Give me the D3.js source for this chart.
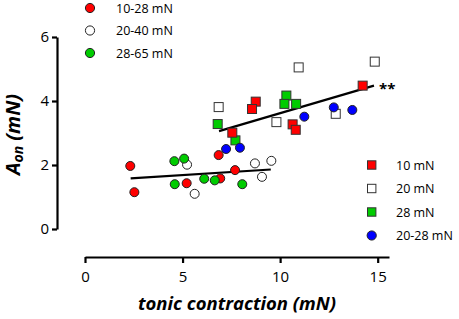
<!DOCTYPE html>
<html><head><meta charset="utf-8">
<script src="https://cdn.jsdelivr.net/npm/d3@7"></script>
<style>body{margin:0;background:#fff}svg{display:block}text{font-family:"Open Sans",sans-serif}</style>
</head><body><svg id="c" width="459" height="319"></svg>
<script>
// Circle series (protocol groups)
const circRed = [[2.32,1.97],[2.53,1.15],[5.21,1.43],[6.93,1.58],[6.85,2.31],[7.69,1.84]];
const circWhite = [[5.23,2.01],[5.62,1.10],[8.71,2.05],[9.55,2.13],[9.07,1.63]];
const circGreen = [[4.58,2.12],[5.08,2.20],[4.60,1.40],[6.11,1.57],[6.65,1.52],[8.06,1.40]];
// Square series and blue circles
const sqRed = [[7.55,3.01],[8.75,3.98],[8.56,3.75],[10.64,3.27],[10.80,3.10],[14.23,4.48]];
const sqWhite = [[6.85,3.81],[9.81,3.34],[10.95,5.05],[12.85,3.60],[14.85,5.23]];
const sqGreen = [[6.80,3.28],[7.71,2.77],[10.32,4.17],[10.22,3.91],[10.82,3.91]];
const circBlue = [[7.23,2.50],[7.94,2.54],[11.24,3.51],[12.75,3.80],[13.70,3.72]];
// Regression lines
const lineLow = [[2.34,1.58],[9.52,1.86]];
const lineHigh = [[6.87,3.06],[14.81,4.48]];
const xTicks = [0,5,10,15];
const yTicks = [0,2,4,6];
const legendTop = ["10-28 mN","20-40 mN","28-65 mN"];
const legendRight = ["10 mN","20 mN","28 mN","20-28 mN"];

const RED="#ff0000", GREEN="#00cc00", BLUE="#0000ff", WHITE="#ffffff";
const svg = d3.select("#c");
const x = d3.scaleLinear().domain([0,15.58]).range([85,389]);
const y = d3.scaleLinear().domain([0,6]).range([229,37]);

const yAx = svg.append("g").attr("transform","translate(57,0)")
  .call(d3.axisLeft(y).tickValues(yTicks).tickFormat(d3.format("d")).tickSize(5).tickSizeOuter(0).tickPadding(3));
const xAx = svg.append("g").attr("transform","translate(0,257)")
  .call(d3.axisBottom(x).tickValues(xTicks).tickFormat(d3.format("d")).tickSize(6).tickSizeOuter(0).tickPadding(8));
[yAx,xAx].forEach(g=>{
  g.select(".domain").attr("stroke","#000").attr("stroke-width",2.2);
  g.selectAll(".tick line").attr("stroke","#000").attr("stroke-width",2.2);
  g.selectAll(".tick text").attr("font-size",15).attr("fill","#000").attr("font-family","Open Sans");
});

const line = d3.line().x(d=>x(d[0])).y(d=>y(d[1]));
[lineLow,lineHigh].forEach(l=>svg.append("path").attr("d",line(l)).attr("stroke","#000").attr("stroke-width",2.2).attr("fill","none"));

function circles(data,fill){
  svg.append("g").selectAll("circle").data(data).join("circle")
    .attr("cx",d=>x(d[0])).attr("cy",d=>y(d[1])).attr("r",4.5)
    .attr("fill",fill).attr("stroke","#222").attr("stroke-width",1);
}
function squares(data,fill){
  svg.append("g").selectAll("rect").data(data).join("rect")
    .attr("x",d=>x(d[0])-4.5).attr("y",d=>y(d[1])-4.5).attr("width",9).attr("height",9)
    .attr("fill",fill).attr("stroke","#333").attr("stroke-width",1);
}
circles(circRed,RED); circles(circWhite,WHITE); circles(circGreen,GREEN);
squares(sqWhite,WHITE); squares(sqGreen,GREEN); squares(sqRed,RED);
circles(circBlue,BLUE);

svg.append("text").attr("x",379).attr("y",94).attr("font-size",15).attr("font-weight","bold").text("**");

// top-left legend
const tl = [RED,WHITE,GREEN];
legendTop.forEach((t,i)=>{
  const cy = 8 + i*22.5;
  svg.append("circle").attr("cx",90).attr("cy",cy).attr("r",4.6).attr("fill",tl[i]).attr("stroke","#222").attr("stroke-width",1);
  svg.append("text").attr("x",116).attr("y",cy+4.5).attr("font-size",12.5).text(t);
});
// right legend
const rl = [RED,WHITE,GREEN,BLUE];
legendRight.forEach((t,i)=>{
  const cy = 165 + i*23.5;
  if(i<3) svg.append("rect").attr("x",367.5).attr("y",cy-4.2).attr("width",8.4).attr("height",8.4).attr("fill",rl[i]).attr("stroke","#333").attr("stroke-width",1);
  else svg.append("circle").attr("cx",371.7).attr("cy",cy).attr("r",4.6).attr("fill",rl[i]).attr("stroke","#222").attr("stroke-width",1);
  svg.append("text").attr("x",396).attr("y",cy+4.5).attr("font-size",12.5).text(t);
});

// axis titles
svg.append("text").attr("x",237).attr("y",310).attr("text-anchor","middle")
  .attr("font-size",18.5).attr("font-weight","bold").attr("font-style","italic").text("tonic contraction (mN)");
const yt = svg.append("text").attr("transform","translate(20,134.5) rotate(-90)").attr("text-anchor","middle")
  .attr("font-size",20).attr("font-weight","bold").attr("font-style","italic");
yt.append("tspan").text("A");
yt.append("tspan").attr("font-size",14).attr("dy",3).text("on");
yt.append("tspan").attr("dy",-3).text(" (mN)");
</script></body></html>
